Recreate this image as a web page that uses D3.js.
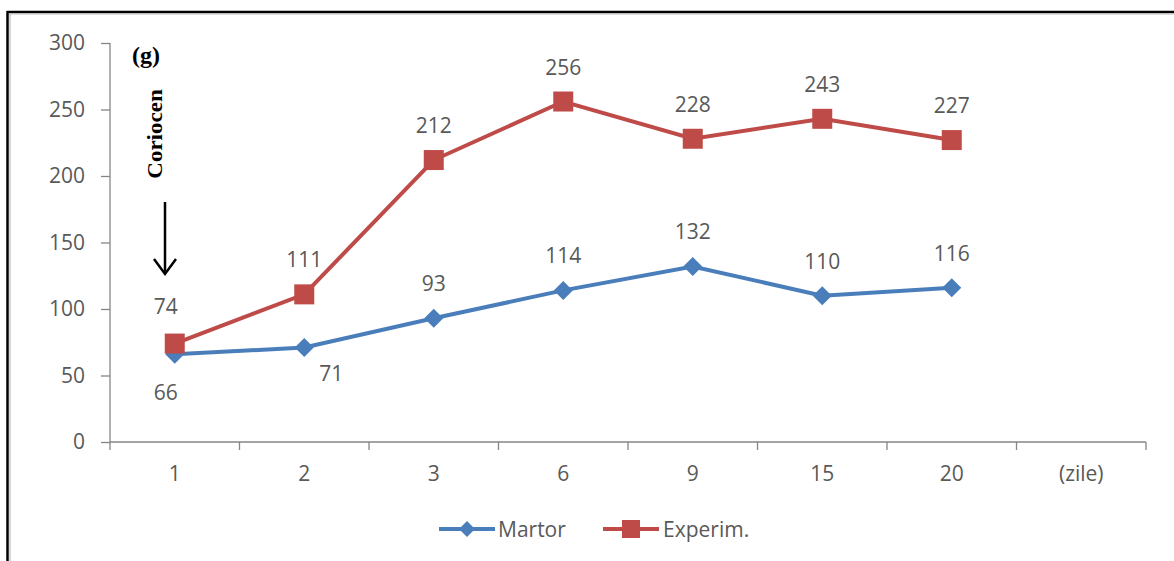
<!DOCTYPE html>
<html><head><meta charset="utf-8">
<script src="https://cdn.jsdelivr.net/npm/d3@7"></script>
<style>
html,body{margin:0;padding:0;background:#fff;}
</style></head>
<body>
<svg id="c" width="1174" height="561" font-family="Open Sans, Noto Sans, sans-serif"></svg>
<script>
const categories = ["1","2","3","6","9","15","20"];
const unitLabel = "(zile)";
const martor = [66,71,93,114,132,110,116];
const experim = [74,111,212,256,228,243,227];
const yTicks = [0,50,100,150,200,250,300];
const seriesNames = ["Martor","Experim."];

(function(){
const svg = d3.select("#c");
const W = 1174, H = 561;
const pL = 110, pR = 1146, pT = 43, pB = 442;
const sans = "Open Sans, Noto Sans, sans-serif";
const serif = "Liberation Serif, DejaVu Serif, serif";

// frame (top and left borders)
svg.append("line").attr("x1",7).attr("x2",W).attr("y1",12).attr("y2",12).attr("stroke","#000").attr("stroke-width",2.5);
svg.append("line").attr("x1",7.5).attr("x2",7.5).attr("y1",11).attr("y2",H).attr("stroke","#000").attr("stroke-width",2.5);
svg.append("line").attr("x1",9).attr("x2",W).attr("y1",14).attr("y2",14).attr("stroke","#bbb").attr("stroke-width",1.2);
svg.append("line").attr("x1",10).attr("x2",10).attr("y1",14).attr("y2",H).attr("stroke","#bbb").attr("stroke-width",1.2);

const x = d3.scaleBand().domain([...categories, unitLabel]).range([pL, pR]);
const y = d3.scaleLinear().domain([0,300]).range([pB, pT]);

const axisColor = "#868686", textColor = "#595959";

// y axis
const ya = svg.append("g").attr("transform",`translate(${pL},0)`)
  .call(d3.axisLeft(y).tickValues(yTicks).tickSize(9).tickPadding(16));
ya.selectAll("path,line").attr("stroke",axisColor).attr("stroke-width",1.3);
ya.select(".domain").attr("d",`M0,${y(300)}V${y(0)}`);
ya.selectAll("text").attr("font-size",21).attr("fill",textColor).style("font-family",sans);

// x axis
const xa = svg.append("g").attr("transform",`translate(0,${pB})`)
  .call(d3.axisBottom(x).tickSize(0).tickPadding(24));
xa.select(".domain").attr("d",`M${pL},0H${pR}`).attr("stroke",axisColor).attr("stroke-width",1.3);
xa.selectAll("text").attr("font-size",21).attr("fill",textColor).style("font-family",sans);
const bounds = x.domain().map(d=>x(d)).concat([pR]);
xa.selectAll(".bt").data(bounds).enter().append("line").attr("class","bt")
  .attr("x1",d=>d).attr("x2",d=>d).attr("y1",0).attr("y2",8).attr("stroke",axisColor).attr("stroke-width",1.3);

const cx = d => x(d) + x.bandwidth()/2;
const blue = "#4A7EBB", red = "#BE4B48";

const line = d3.line().x((d,i)=>cx(categories[i])).y(d=>y(d));
svg.append("path").datum(martor).attr("d",line).attr("fill","none").attr("stroke",blue).attr("stroke-width",4);
svg.append("path").datum(experim).attr("d",line).attr("fill","none").attr("stroke",red).attr("stroke-width",4);

const diamondPath = r => `M0,${-r}L${r},0L0,${r}L${-r},0Z`;
svg.selectAll(".dm").data(martor).enter().append("path")
  .attr("transform",(d,i)=>`translate(${cx(categories[i])},${y(d)})`).attr("d",diamondPath(9.5)).attr("fill",blue);
svg.selectAll(".sq").data(experim).enter().append("rect")
  .attr("x",(d,i)=>cx(categories[i])-10).attr("y",d=>y(d)-10).attr("width",20).attr("height",20).attr("fill",red);

// data labels
function lab(v,i,dx,dy){
  svg.append("text").attr("x",cx(categories[i])+dx).attr("y",y(v)+dy)
    .attr("text-anchor","middle").attr("dominant-baseline","central")
    .attr("font-size",21).attr("fill",textColor).style("font-family",sans).text(v);
}
experim.forEach((v,i)=>lab(v,i,i===0?-9:0,i===0?-38:-35));
martor.forEach((v,i)=>{
  if(i===0) lab(v,i,-9,38);
  else if(i===1) lab(v,i,27,25);
  else lab(v,i,0,-35);
});

// annotations
svg.append("text").attr("x",146).attr("y",63).style("font-family",serif).attr("font-weight","bold")
  .attr("font-size",24).attr("text-anchor","middle").attr("fill","#000").text("(g)");
svg.append("text").attr("transform","translate(155,134) rotate(-90) scale(1,0.9)").style("font-family",serif)
  .attr("font-weight","bold").attr("font-size",23).attr("text-anchor","middle").attr("dominant-baseline","central").attr("fill","#000").text("Coriocen");
svg.append("line").attr("x1",165).attr("x2",165).attr("y1",202).attr("y2",273).attr("stroke","#000").attr("stroke-width",2.5);
svg.append("path").attr("d","M154,259 L165,274 L176,259").attr("fill","none").attr("stroke","#000").attr("stroke-width",2.5);

// legend
const ly = 529;
const lg = svg.append("g");
lg.append("line").attr("x1",439).attr("x2",495).attr("y1",ly).attr("y2",ly).attr("stroke",blue).attr("stroke-width",4);
lg.append("path").attr("transform",`translate(467,${ly})`).attr("d",diamondPath(8)).attr("fill",blue);
lg.append("text").attr("x",498).attr("y",ly).attr("dominant-baseline","central").attr("font-size",21).attr("fill",textColor).style("font-family",sans).text(seriesNames[0]);
lg.append("line").attr("x1",603).attr("x2",659).attr("y1",ly).attr("y2",ly).attr("stroke",red).attr("stroke-width",4);
lg.append("rect").attr("x",622).attr("y",ly-9).attr("width",18).attr("height",18).attr("fill",red);
lg.append("text").attr("x",663).attr("y",ly).attr("dominant-baseline","central").attr("font-size",21).attr("fill",textColor).style("font-family",sans).text(seriesNames[1]);
})();
</script>
</body></html>
